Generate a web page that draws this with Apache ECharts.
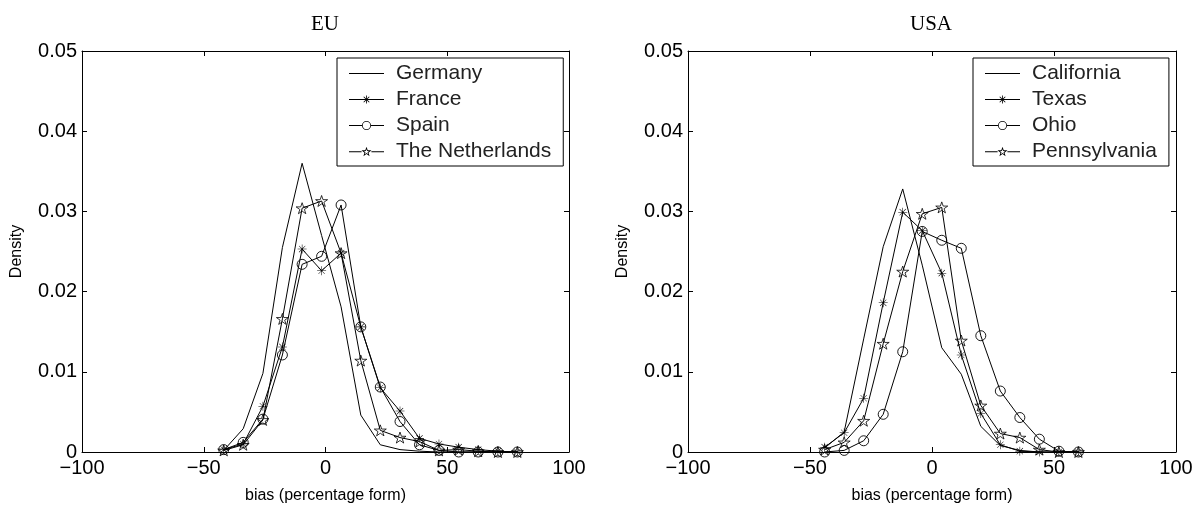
<!DOCTYPE html>
<html>
<head>
<meta charset="utf-8">
<script src="https://cdn.jsdelivr.net/npm/echarts@6/dist/echarts.min.js"></script>
<style>html,body{margin:0;padding:0;background:#fff;}#c{width:1202px;height:509px;}</style>
</head>
<body>
<div id="c"></div>
<script>
// ---- data ----
const euBias = [-41.8, -33.8, -25.7, -17.7, -9.6, -1.6, 6.4, 14.5, 22.5, 30.6, 38.6, 46.6, 54.7, 62.7, 70.8, 78.8];
const germany     = [0.0002, 0.0029, 0.0098, 0.0255, 0.0360, 0.0270, 0.0181, 0.0046, 0.0009, 0.0003, 0.0001, 0, 0, 0, 0, 0];
const france      = [0.0003, 0.0010, 0.0057, 0.0131, 0.0253, 0.0226, 0.0248, 0.0156, 0.0080, 0.0051, 0.0017, 0.0010, 0.0006, 0.0003, 0.0001, 0];
const spain       = [0.0003, 0.0012, 0.0041, 0.0121, 0.0234, 0.0244, 0.0308, 0.0156, 0.0081, 0.0038, 0.0009, 0.0002, 0, 0, 0, 0];
const netherlands = [0.0002, 0.0009, 0.0040, 0.0166, 0.0304, 0.0313, 0.0248, 0.0114, 0.0027, 0.0018, 0.0013, 0.0002, 0.0003, 0.0001, 0, 0];

const usBias = [-44, -36, -28, -20, -12, -4, 4, 12, 20, 28, 36, 44, 52, 60];
const california   = [0.0005, 0.0025, 0.0141, 0.0256, 0.0328, 0.0233, 0.0130, 0.0097, 0.0032, 0.0008, 0.0002, 0, 0, 0];
const texas        = [0.0006, 0.0024, 0.0067, 0.0186, 0.0299, 0.0276, 0.0223, 0.0121, 0.0048, 0.0009, 0.0001, 0, 0, 0];
const ohio         = [0, 0.0002, 0.0014, 0.0047, 0.0125, 0.0275, 0.0264, 0.0254, 0.0145, 0.0076, 0.0043, 0.0016, 0.0001, 0];
const pennsylvania = [0.0003, 0.0012, 0.0039, 0.0135, 0.0225, 0.0297, 0.0305, 0.0139, 0.0058, 0.0023, 0.0018, 0.0003, 0, 0];

const panelTitles = ['EU', 'USA'];
const euNames = ['Germany', 'France', 'Spain', 'The Netherlands'];
const usNames = ['California', 'Texas', 'Ohio', 'Pennsylvania'];
const xTicks = { min: -100, max: 100, interval: 50 };
const yTicks = { min: 0, max: 0.05, interval: 0.01 };
const xLabel = 'bias (percentage form)';
const yLabel = 'Density';

// ---- styling ----
const INK = '#000';
const SANS = 'Liberation Sans, Arial, Helvetica, sans-serif';
const SERIF = 'Liberation Serif, Times New Roman, serif';
const HOLLOW = 'rgba(0,0,0,0)';
const ASTERISK = 'path://M9.4,0 L10.6,0 L10.6,20 L9.4,20 Z M0,9.4 L20,9.4 L20,10.6 L0,10.6 Z M2.6,3.4 L3.4,2.6 L17.4,16.6 L16.6,17.4 Z M16.6,2.6 L17.4,3.4 L3.4,17.4 L2.6,16.6 Z';

function starPath(cx, cy, R, r, reverse) {
  const pts = [];
  for (let k = 0; k < 10; k++) {
    const a = (-90 + 36 * k) * Math.PI / 180;
    const rad = k % 2 ? r : R;
    pts.push((cx + rad * Math.cos(a)).toFixed(3) + ',' + (cy + rad * Math.sin(a)).toFixed(3));
  }
  if (reverse) pts.reverse();
  return 'M' + pts.join(' L') + ' Z';
}
const STAR = 'path://' + starPath(10, 10, 10, 3.82, false);

// legend icons: line sample + marker, in a 35 x 10 box, drawn as filled shapes
const LW = 35, LH = 10, CX = 17.5;
function seg(x0, x1) { return 'M' + x0 + ',4.5 L' + x1 + ',4.5 L' + x1 + ',5.5 L' + x0 + ',5.5 Z '; }
const ICON_LINE = 'path://' + seg(0, LW);
const ICON_AST = 'path://' + seg(0, LW) +
  'M17.1,1 L17.9,1 L17.9,9 L17.1,9 Z ' +
  'M14.4,2.5 L15,1.9 L20.6,7.5 L20,8.1 Z M20,1.9 L20.6,2.5 L15,8.1 L14.4,7.5 Z';
const ICON_CIRC = 'path://' + seg(0, 13) + seg(22, LW) +
  'M13,5 A4.5,4.5 0 1,0 22,5 A4.5,4.5 0 1,0 13,5 Z ' +
  'M13.8,5 A3.7,3.7 0 1,1 21.2,5 A3.7,3.7 0 1,1 13.8,5 Z';
const ICON_STAR = 'path://' + seg(0, 12.6) + seg(22.4, LW) +
  starPath(CX, 5.3, 5.3, 2.1, false) + ' ' + starPath(CX, 5.3, 2.7, 1.1, true);

function pairs(xs, ys) { return xs.map((x, i) => [x, ys[i]]); }

const markerStyles = [
  { symbol: 'none', symbolSize: 0, itemStyle: { color: INK } },
  { symbol: ASTERISK, symbolSize: 9, itemStyle: { color: INK, borderWidth: 0 } },
  { symbol: 'circle', symbolSize: 10, itemStyle: { color: HOLLOW, borderColor: INK, borderWidth: 0.9 } },
  { symbol: STAR, symbolSize: [12, 11], itemStyle: { color: HOLLOW, borderColor: INK, borderWidth: 0.8 } }
];
const legendIcons = [ICON_LINE, ICON_AST, ICON_CIRC, ICON_STAR];

function mkSeries(name, xs, ys, k, axisIdx) {
  const m = markerStyles[k];
  return {
    type: 'line', name: name, data: pairs(xs, ys),
    xAxisIndex: axisIdx, yAxisIndex: axisIdx,
    symbol: m.symbol, symbolSize: m.symbolSize, showSymbol: m.symbol !== 'none',
    itemStyle: m.itemStyle,
    lineStyle: { color: INK, width: 1 },
    animation: false, silent: true, z: 3
  };
}

const series = [
  mkSeries(euNames[0], euBias, germany, 0, 0),
  mkSeries(euNames[1], euBias, france, 1, 0),
  mkSeries(euNames[2], euBias, spain, 2, 0),
  mkSeries(euNames[3], euBias, netherlands, 3, 0),
  mkSeries(usNames[0], usBias, california, 0, 1),
  mkSeries(usNames[1], usBias, texas, 1, 1),
  mkSeries(usNames[2], usBias, ohio, 2, 1),
  mkSeries(usNames[3], usBias, pennsylvania, 3, 1)
];

const fmtX = v => v < 0 ? '\u2212' + Math.abs(v) : String(v);
const fmtY = v => v === 0 ? '0' : v.toFixed(2);

function xAx(grid, pos, labels) {
  return {
    type: 'value', gridIndex: grid, position: pos,
    min: xTicks.min, max: xTicks.max, interval: xTicks.interval,
    axisLine: { show: true, onZero: false, lineStyle: { color: INK, width: 1 } },
    axisTick: { show: true, inside: true, length: 5, lineStyle: { color: INK } },
    axisLabel: { show: labels, formatter: fmtX, color: INK, fontFamily: SANS, fontSize: 20, margin: 6 },
    splitLine: { show: false },
    name: labels ? xLabel : '', nameLocation: 'middle', nameGap: 36,
    nameTextStyle: { color: INK, fontFamily: SANS, fontSize: 16 }
  };
}
function yAx(grid, pos, labels) {
  return {
    type: 'value', gridIndex: grid, position: pos,
    min: yTicks.min, max: yTicks.max, interval: yTicks.interval,
    axisLine: { show: true, onZero: false, lineStyle: { color: INK, width: 1 } },
    axisTick: { show: true, inside: true, length: 5, lineStyle: { color: INK } },
    axisLabel: { show: labels, formatter: fmtY, color: INK, fontFamily: SANS, fontSize: 20, margin: 5 },
    splitLine: { show: false },
    name: labels ? yLabel : '', nameLocation: 'middle', nameGap: 57, nameRotate: 90,
    nameTextStyle: { color: INK, fontFamily: SANS, fontSize: 16 }
  };
}

function legendFor(names, left) {
  return {
    data: names.map((n, k) => ({ name: n, icon: legendIcons[k] })),
    left: left, top: 58, orient: 'vertical',
    backgroundColor: '#fff', borderColor: INK, borderWidth: 1,
    padding: [5, 12, 4, 12], itemGap: 5, itemWidth: LW, itemHeight: LH,
    itemStyle: { color: INK, borderWidth: 0 },
    textStyle: { color: '#222', fontFamily: SANS, fontSize: 21, padding: [0, 0, 0, 7] },
    selectedMode: false
  };
}

const chart = echarts.init(document.getElementById('c'), null, { renderer: 'canvas' });
chart.setOption({
  backgroundColor: '#fff',
  animation: false,
  title: [
    { text: panelTitles[0], left: 320, top: 9, textAlign: 'center', textStyle: { fontFamily: SERIF, fontWeight: 'normal', fontSize: 21, color: INK } },
    { text: panelTitles[1], left: 926, top: 9, textAlign: 'center', textStyle: { fontFamily: SERIF, fontWeight: 'normal', fontSize: 21, color: INK } }
  ],
  grid: [
    { left: 82, right: 633, top: 51, bottom: 55 },
    { left: 688, right: 26, top: 51, bottom: 55 }
  ],
  xAxis: [xAx(0, 'bottom', true), xAx(1, 'bottom', true), xAx(0, 'top', false), xAx(1, 'top', false)],
  yAxis: [yAx(0, 'left', true), yAx(1, 'left', true), yAx(0, 'right', false), yAx(1, 'right', false)],
  legend: [legendFor(euNames, 337), legendFor(usNames, 973)],
  series: series
});
</script>
</body>
</html>
